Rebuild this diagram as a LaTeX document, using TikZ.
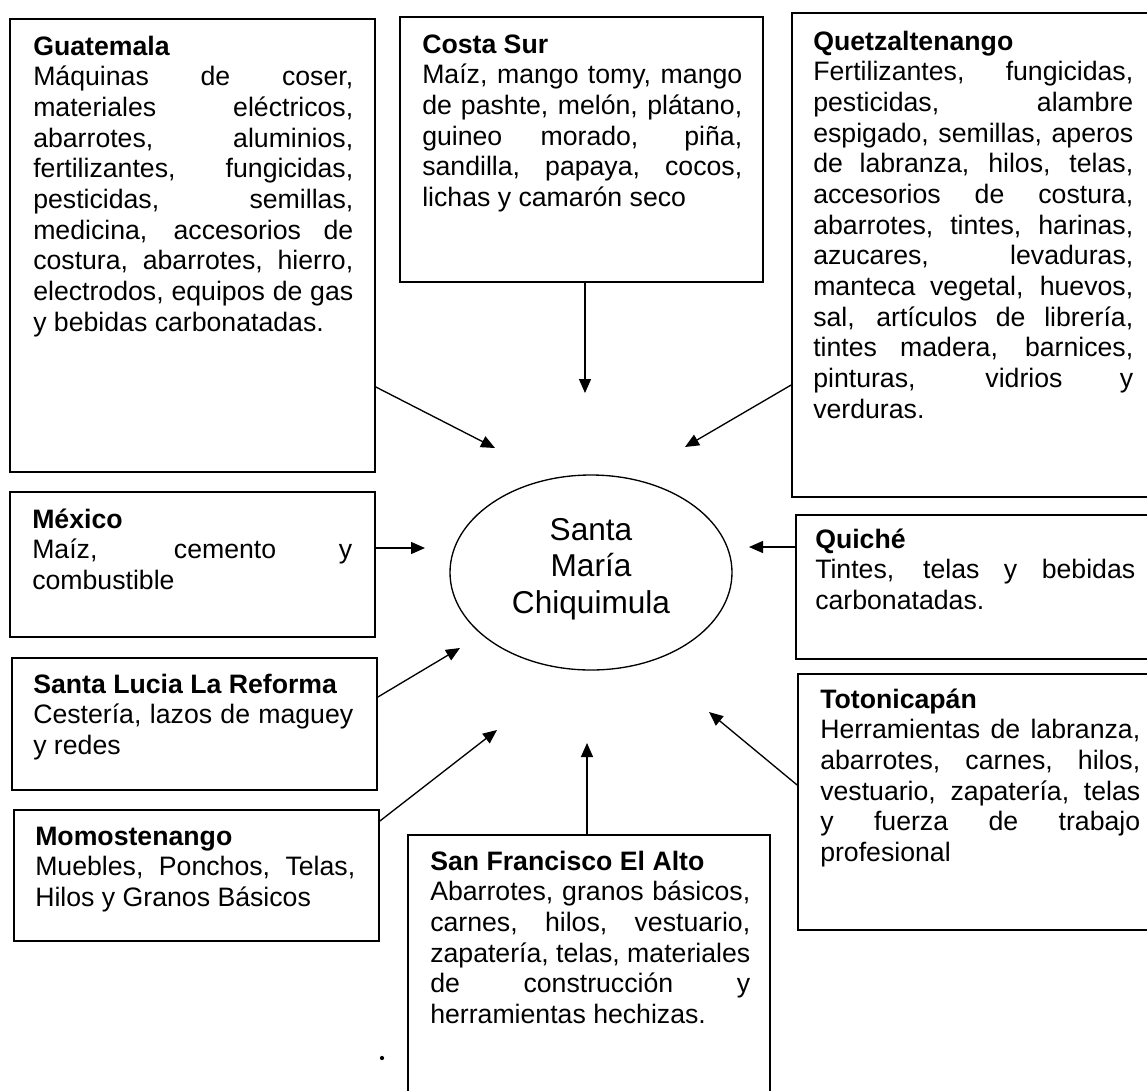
\documentclass[tikz,border=0pt]{standalone}
\usepackage{fontspec}
\setmainfont{Liberation Sans}
\usetikzlibrary{arrows.meta,shapes.geometric,fit}
\newcommand\jl[1]{\hbox to 240pt{#1}}
\newcommand\nl[1]{\hbox{#1}}
\newcommand\hd[1]{\hbox{\bfseries #1}}
\newcommand\ctrline[1]{\hbox to 0pt{\hss #1\hss}}
\begin{document}
\begin{tikzpicture}[x=0.75pt,y=-0.75pt,
  box/.style={draw, line width=1.3pt, inner sep=0pt},
  txt/.style={anchor=base west, inner sep=0pt, font=\fontsize{20pt}{23pt}\selectfont},
  arr/.style={draw, line width=1pt, -{Triangle[length=10.5pt,width=9pt]}}]
\useasboundingbox (0,0) rectangle (1147,1090);
\fill[white] (0,0) rectangle (1147,1090);
\begin{scope}
\clip (0,0) rectangle (1147,1090);
% boxes
\node[box, fit={(10,19) (375,472)}] (gua) {};
\node[box, fit={(400,17) (763,282)}] (costa) {};
\node[box, fit={(792,13) (1152,497)}] (quetz) {};
\node[box, fit={(10,492) (375,637)}] (mex) {};
\node[box, fit={(12,658) (377,790)}] (lucia) {};
\node[box, fit={(14,810) (379,941)}] (momo) {};
\node[box, fit={(796,515) (1152,659)}] (quiche) {};
\node[box, fit={(798,674) (1152,930)}] (toto) {};
\node[box, fit={(408,835) (770,1096)}] (sf) {};
\end{scope}
% texts
\node[txt] (guaT) at (33,55) {\vtop{\baselineskip=23pt
  \hd{Guatemala}
  \jl{Máquinas de coser,}
  \jl{materiales eléctricos,}
  \jl{abarrotes, aluminios,}
  \jl{fertilizantes, fungicidas,}
  \jl{pesticidas, semillas,}
  \jl{medicina, accesorios de}
  \jl{costura, abarrotes, hierro,}
  \jl{electrodos, equipos de gas}
  \nl{y bebidas carbonatadas.}}};
\node[txt] (costaT) at (422,53) {\vtop{\baselineskip=23pt
  \hd{Costa Sur}
  \jl{Maíz, mango tomy, mango}
  \jl{de pashte, melón, plátano,}
  \jl{guineo morado, piña,}
  \jl{sandilla, papaya, cocos,}
  \nl{lichas y camarón seco}}};
\node[txt] (quetzT) at (813,50) {\vtop{\baselineskip=23pt
  \hd{Quetzaltenango}
  \jl{Fertilizantes, fungicidas,}
  \jl{pesticidas, alambre}
  \jl{espigado, semillas, aperos}
  \jl{de labranza, hilos, telas,}
  \jl{accesorios de costura,}
  \jl{abarrotes, tintes, harinas,}
  \jl{azucares, levaduras,}
  \jl{manteca vegetal, huevos,}
  \jl{sal, artículos de librería,}
  \jl{tintes madera, barnices,}
  \jl{pinturas, vidrios y}
  \nl{verduras.}}};
\node[txt] (mexT) at (32,528) {\vtop{\baselineskip=23pt
  \hd{México}
  \jl{Maíz, cemento y}
  \nl{combustible}}};
\node[txt] (luciaT) at (33,693) {\vtop{\baselineskip=23pt
  \hd{Santa Lucia La Reforma}
  \jl{Cestería, lazos de maguey}
  \nl{y redes}}};
\node[txt] (momoT) at (35,845) {\vtop{\baselineskip=23pt
  \hd{Momostenango}
  \jl{Muebles, Ponchos, Telas,}
  \nl{Hilos y Granos Básicos}}};
\node[txt] (quicheT) at (815,548) {\vtop{\baselineskip=23pt
  \hd{Quiché}
  \jl{Tintes, telas y bebidas}
  \nl{carbonatadas.}}};
\node[txt] (totoT) at (820,708) {\vtop{\baselineskip=23pt
  \hd{Totonicapán}
  \jl{Herramientas de labranza,}
  \jl{abarrotes, carnes, hilos,}
  \jl{vestuario, zapatería, telas}
  \jl{y fuerza de trabajo}
  \nl{profesional}}};
\node[txt] (sfT) at (430,870) {\vtop{\baselineskip=23pt
  \hd{San Francisco El Alto}
  \jl{Abarrotes, granos básicos,}
  \jl{carnes, hilos, vestuario,}
  \jl{zapatería, telas, materiales}
  \jl{de construcción y}
  \nl{herramientas hechizas.}}};
% center
\node[draw, ellipse, line width=1pt, minimum width=211.5pt, minimum height=146.25pt, inner sep=0pt] (smc) at (591,572.5) {};
\node[inner sep=0pt, anchor=base, font=\fontsize{23.7pt}{27.4pt}\selectfont] (smcT) at (591,540)
  {\vtop{\baselineskip=27.4pt \ctrline{Santa}\ctrline{María}\ctrline{Chiquimula}}};
% arrow tips
\coordinate (tGua) at (495,448);
\coordinate (tCosta) at (585,393);
\coordinate (tQuetz) at (685,447);
\coordinate (tMex) at (425,548);
\coordinate (tQuiche) at (749,547);
\coordinate (tLucia) at (460,648);
\coordinate (tMomo) at (497,730);
\coordinate (tSf) at (587,743);
\coordinate (tToto) at (709,712);
% arrows
\draw[arr] (gua.east |- 0,387) -- (tGua);
\draw[arr] (costa.south -| 585,0) -- (tCosta);
\draw[arr] (quetz.west |- 0,385) -- (tQuetz);
\draw[arr] (mex.east |- 0,548) -- (tMex);
\draw[arr] (quiche.west |- 0,547) -- (tQuiche);
\draw[arr] (lucia.east |- 0,697) -- (tLucia);
\draw[arr] (momo.east |- 0,821) -- (tMomo);
\draw[arr] (sf.north -| 587,0) -- (tSf);
\draw[arr] (toto.west |- 0,785) -- (tToto);
% scan speck
\fill (382,1058) circle (1.6pt);
\end{tikzpicture}
\end{document}
